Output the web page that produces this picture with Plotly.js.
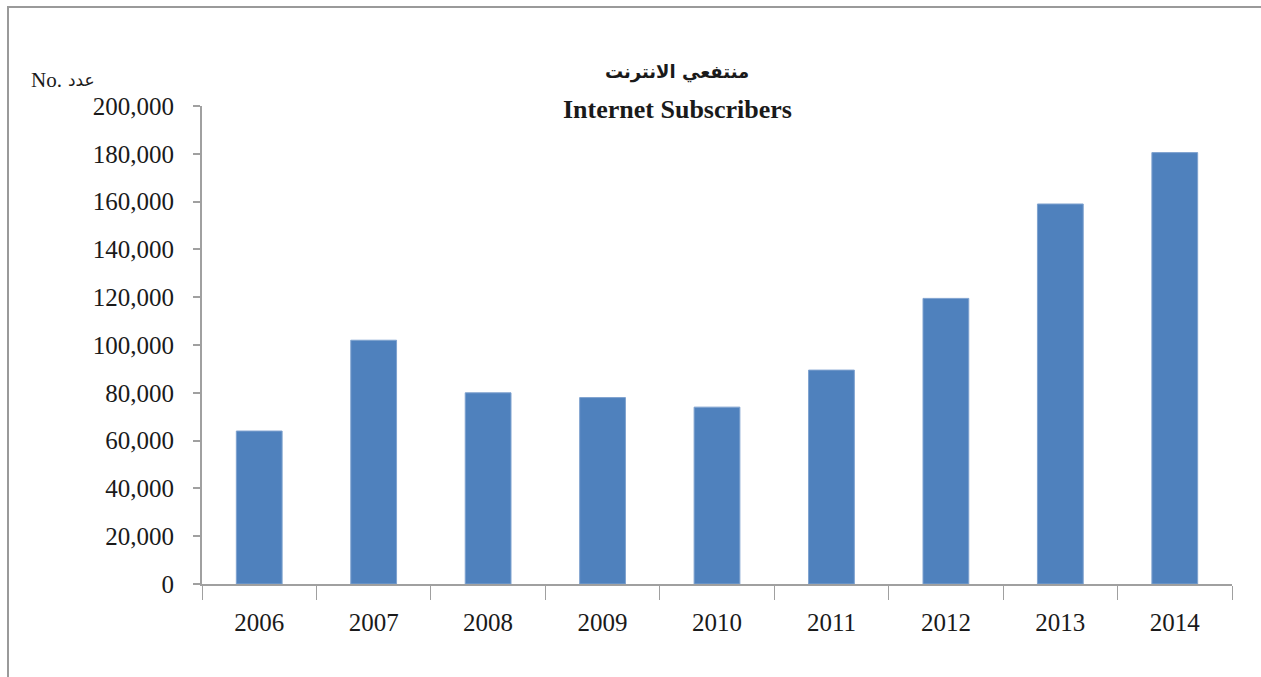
<!DOCTYPE html>
<html>
<head>
<meta charset="utf-8">
<script src="https://cdn.plot.ly/plotly-3.0.1.min.js"></script>
<style>html,body{margin:0;padding:0;background:#fff;}#chart{width:1261px;height:677px;}</style>
</head>
<body>
<div id="chart"></div>
<script>
const years = ["2006","2007","2008","2009","2010","2011","2012","2013","2014"];
const subscribers = [64000, 102000, 80000, 78000, 74000, 89500, 119500, 159000, 180500];
const titleArabic = "منتفعي الانترنت";
const titleEnglish = "Internet Subscribers";
const unitLabelEn = "No.";
const unitLabelAr = "عدد";

const L = 202, R = 1232, T = 106, B = 584, W = 1261, H = 677;
const px = x => (x - L) / (R - L);
const py = y => (B - y) / (B - T);

const trace = {
  type: "bar",
  x: years,
  y: subscribers,
  marker: {color: "#4f81bd", line: {color: "#7fa2cf", width: 1}},
  hoverinfo: "x+y"
};

const layout = {
  width: W, height: H,
  margin: {l: L, r: W - R, t: T, b: H - B, pad: 0},
  paper_bgcolor: "#ffffff",
  plot_bgcolor: "#ffffff",
  bargap: 0.6,
  showlegend: false,
  font: {family: "Liberation Serif, Times New Roman, serif", color: "#1a1a1a"},
  xaxis: {
    type: "category",
    showline: true, linecolor: "#a0a0a0", linewidth: 2,
    ticks: "outside", tickson: "boundaries", ticklen: 14, tickcolor: "#a0a0a0", tickwidth: 1,
    tickfont: {size: 25, family: "Liberation Serif, serif", color: "#1a1a1a"},
    ticklabelstandoff: 15,
    showgrid: false, zeroline: false
  },
  yaxis: {
    range: [0, 200000], dtick: 20000, tickformat: ",",
    showline: true, linecolor: "#a0a0a0", linewidth: 2,
    ticks: "outside", ticklen: 7, tickcolor: "#a0a0a0", tickwidth: 2,
    tickfont: {size: 25, family: "Liberation Serif, serif", color: "#1a1a1a"},
    ticklabelstandoff: 14,
    showgrid: false, zeroline: false
  },
  shapes: [{
    type: "rect", xref: "paper", yref: "paper",
    x0: px(8), x1: px(1275), y0: py(700), y1: py(7),
    line: {color: "#9a9a9a", width: 2}, fillcolor: "rgba(0,0,0,0)", layer: "below"
  }],
  annotations: [
    {text: "<b>" + titleArabic + "</b>", xref: "paper", yref: "paper", x: px(677), y: py(72),
     showarrow: false, xanchor: "center", yanchor: "middle",
     font: {size: 18, family: "DejaVu Sans, sans-serif", color: "#1a1a1a"}},
    {text: "<b>" + titleEnglish + "</b>", xref: "paper", yref: "paper", x: px(677), y: py(109),
     showarrow: false, xanchor: "center", yanchor: "middle",
     font: {size: 26, family: "Liberation Serif, serif", color: "#1a1a1a"}},
    {text: unitLabelEn, xref: "paper", yref: "paper", x: px(29), y: py(80),
     showarrow: false, xanchor: "left", yanchor: "middle",
     font: {size: 21, family: "Liberation Serif, serif", color: "#1a1a1a"}},
    {text: unitLabelAr, xref: "paper", yref: "paper", x: px(66), y: py(80),
     showarrow: false, xanchor: "left", yanchor: "middle",
     font: {size: 17, family: "DejaVu Sans, sans-serif", color: "#1a1a1a"}}
  ]
};

Plotly.newPlot("chart", [trace], layout, {displayModeBar: false, staticPlot: true});
</script>
</body>
</html>
